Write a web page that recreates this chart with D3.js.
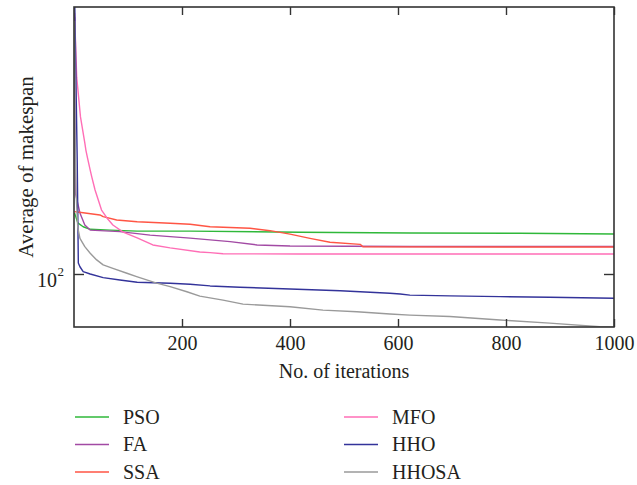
<!DOCTYPE html>
<html>
<head>
<meta charset="utf-8">
<script src="https://cdn.jsdelivr.net/npm/d3@7"></script>
<style>
  html, body { margin: 0; padding: 0; background: #fff; }
  svg { display: block; }
  text { font-family: "Liberation Serif", "Times New Roman", serif; fill: #231f20; }
</style>
</head>
<body>
<svg id="chart" width="637" height="485"></svg>
<script>
// ---- data (iteration, average makespan) ----
const seriesNames = ["PSO", "FA", "SSA", "MFO", "HHO", "HHOSA"];
const xTicks = [200, 400, 600, 800, 1000];
const yTicks = [100];

const psoData = [[1,129.3],[7,124.0],[17,122.0],[30,120.7],[67,120.3],[117,119.8],[215,119.8],[419,119.2],[622,118.8],[826,118.7],[1000,118.3]];
const faData = [[1,295],[2,165],[3,140],[11,129.3],[20,122.9],[30,120.3],[85,119.5],[141,117.8],[215,116.3],[289,114.6],[339,113.0],[400,112.5],[622,112.3],[1000,112.3]];
const ssaData = [[1,130.0],[17,129.4],[48,128.2],[54,127.3],[79,125.5],[117,124.6],[178,123.8],[215,123.3],[252,122.0],[326,121.2],[363,120.0],[400,118.3],[437,116.2],[474,114.3],[530,113.3],[535,112.1],[1000,112.0]];
const mfoData = [[1,300],[3,262],[5,229],[12,193.7],[20,173.6],[22,168.5],[25,163],[30,154.9],[33,150.4],[39,142.4],[51,130.9],[61,126.6],[72,122.9],[91,119.3],[117,116.4],[146,113.0],[178,111.6],[233,109.7],[252,109.4],[276,108.9],[419,108.8],[1000,108.8]];
const hhoData = [[1,330],[6,160],[8,104.7],[11,103.1],[17,101.0],[30,100.0],[54,98.5],[85,97.5],[117,96.6],[178,96.2],[215,95.8],[252,95.1],[307,94.6],[400,93.9],[493,93.2],[585,92.2],[604,91.9],[622,91.5],[696,91.2],[789,90.9],[881,90.7],[1000,90.3]];
const hhosaData = [[1,290],[2,180],[4,140],[6,127],[7,121.5],[11,116.2],[20,112.2],[30,109.1],[42,106.1],[54,103.9],[72,102.4],[98,100.3],[116,98.9],[153,96.2],[178,94.8],[209,92.8],[233,91.1],[276,89.6],[313,88.1],[400,87.1],[461,85.9],[524,85.3],[585,84.5],[622,84.1],[696,83.6],[789,82.4],[881,81.3],[974,80.1],[1000,79.9]];

const seriesData = [psoData, faData, ssaData, mfoData, hhoData, hhosaData];

// ---- styles ----
const seriesColors = ["#2fb83a", "#a24aa4", "#ff5544", "#ff6eb6", "#33339a", "#9a9a9a"];

const pLeft = 74, pRight = 614, pTop = 7, pBottom = 327;
const svg = d3.select("#chart");

const x = d3.scaleLinear().domain([0, 1000]).range([pLeft, pRight]);
const y = d3.scaleLog().domain([80, 307.7]).range([pBottom, pTop]);

svg.append("defs").append("clipPath").attr("id", "plotclip")
  .append("rect").attr("x", pLeft).attr("y", pTop).attr("width", pRight - pLeft).attr("height", pBottom - pTop);

const line = d3.line().x(d => x(d[0])).y(d => y(d[1]));

const lines = svg.append("g").attr("clip-path", "url(#plotclip)");
seriesData.forEach((data, i) => {
  lines.append("path")
    .attr("d", line(data))
    .attr("fill", "none")
    .attr("stroke", seriesColors[i])
    .attr("stroke-width", 1.4)
    .attr("stroke-linejoin", "round");
});

// ---- axes ----
const axisColor = "#333";
function styleAxis(g) {
  g.select(".domain").remove();
  g.selectAll(".tick line").attr("stroke", axisColor).attr("stroke-width", 1.4);
}
svg.append("g").attr("transform", `translate(0,${pBottom})`)
  .call(d3.axisBottom(x).tickValues(xTicks).tickSizeInner(-8).tickSizeOuter(0).tickPadding(16).tickFormat(d3.format("d")))
  .call(styleAxis)
  .call(g => g.selectAll(".tick text").attr("font-size", 20).attr("font-family", "Liberation Serif").attr("fill", "#231f20").attr("dy", "0.35em"));
svg.append("g").attr("transform", `translate(0,${pTop})`)
  .call(d3.axisTop(x).tickValues(xTicks).tickSizeInner(-8).tickSizeOuter(0).tickFormat(""))
  .call(styleAxis);
svg.append("g").attr("transform", `translate(${pLeft},0)`)
  .call(d3.axisLeft(y).tickValues(yTicks).tickSizeInner(-10).tickSizeOuter(0).tickFormat(""))
  .call(styleAxis);
svg.append("g").attr("transform", `translate(${pRight},0)`)
  .call(d3.axisRight(y).tickValues(yTicks).tickSizeInner(-10).tickSizeOuter(0).tickFormat(""))
  .call(styleAxis);

// 10^2 label
yTicks.forEach(v => {
  svg.append("text").attr("x", 57).attr("y", y(v) + 13).attr("text-anchor", "end").attr("font-size", 20).text("10");
  svg.append("text").attr("x", 57.5).attr("y", y(v) + 2).attr("font-size", 13).text(Math.round(Math.log10(v)));
});

// frame
svg.append("rect").attr("x", pLeft).attr("y", pTop).attr("width", pRight - pLeft).attr("height", pBottom - pTop)
  .attr("fill", "none").attr("stroke", axisColor).attr("stroke-width", 1.6);

// axis titles
svg.append("text").attr("x", (pLeft + pRight) / 2).attr("y", 378).attr("text-anchor", "middle")
  .attr("font-size", 20).text("No. of iterations");
svg.append("text").attr("transform", `translate(33,${(pTop + pBottom) / 2}) rotate(-90)`)
  .attr("text-anchor", "middle").attr("font-size", 21).text("Average of makespan");

// legend
const legendPos = [[75, 417], [75, 444.5], [75, 472], [344, 417], [344, 444.5], [344, 472]];
seriesNames.forEach((name, i) => {
  const [lx, ly] = legendPos[i];
  svg.append("line").attr("x1", lx).attr("x2", lx + 34).attr("y1", ly).attr("y2", ly)
    .attr("stroke", seriesColors[i]).attr("stroke-width", 1.5);
  svg.append("text").attr("x", lx + 48).attr("y", ly + 6.5).attr("font-size", 20).text(name);
});
</script>
</body>
</html>
